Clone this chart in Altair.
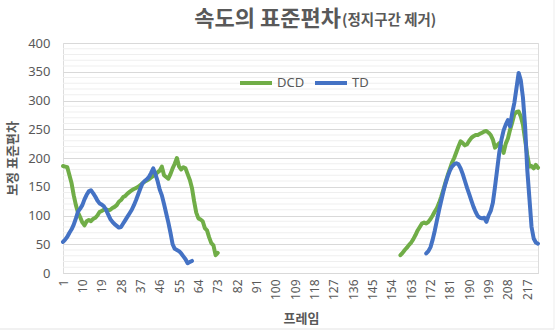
import altair as alt
import pandas as pd

# ---- data ----
dcd1_frames = list(range(1, 74))
dcd1_values = [186, 185, 184, 170, 156, 135, 118, 105, 97, 88, 83, 90, 92, 90, 94, 96, 100, 106, 108, 110,
               111, 109, 110, 113, 115, 118, 124, 127, 132, 134, 138, 141, 144, 146, 148, 150, 153, 156, 159, 161,
               163, 166, 169, 172, 175, 178, 185, 170, 167, 164, 172, 182, 190, 200, 185, 180, 184, 182, 172, 162,
               148, 125, 105, 95, 93, 90, 78, 74, 62, 52, 48, 31, 35]

td1_frames = list(range(1, 62))
td1_values = [54, 58, 63, 70, 76, 84, 95, 107, 112, 118, 128, 136, 142, 144, 139, 133, 126, 121, 119, 116,
              110, 102, 94, 89, 85, 82, 79, 80, 86, 92, 98, 104, 110, 118, 127, 137, 147, 156, 160, 163,
              167, 174, 182, 172, 160, 145, 135, 120, 104, 88, 70, 50, 42, 40, 38, 34, 29, 24, 17, 19, 21]

dcd2_frames = list(range(158, 223))
dcd2_values = [31, 35, 40, 44, 49, 53, 59, 66, 74, 80, 86, 88, 86, 89, 94, 100, 107, 113, 122, 133,
               145, 158, 170, 181, 192, 200, 210, 220, 229, 226, 222, 224, 230, 235, 238, 240, 240, 242, 244, 246,
               247, 244, 240, 232, 218, 222, 226, 220, 209, 225, 234, 249, 262, 276, 280, 281, 272, 258, 232, 205,
               185, 186, 182, 188, 183]

td2_frames = list(range(170, 223))
td2_values = [34, 38, 45, 58, 74, 92, 110, 126, 142, 156, 168, 178, 185, 189, 191, 189, 182, 172, 160, 148,
              137, 126, 115, 106, 99, 96, 95, 96, 89, 100, 108, 122, 150, 180, 210, 232, 248, 258, 266, 255,
              278, 296, 322, 348, 335, 305, 255, 180, 130, 80, 60, 53, 51]

series_names = ["DCD", "TD"]
series_colors = ["#70AD47", "#4472C4"]
x_tick_values = list(range(1, 218, 9))
y_major = [0, 50, 100, 150, 200, 250, 300, 350, 400]
y_minor = [v for v in range(10, 400, 10) if v % 50 != 0]

title_main = "속도의 표준편차"
title_sub = "(정지구간 제거)"
y_title = "보정 표준편차"
x_title = "프레임"

# ---- build table ----
rows = []
for name, seg, fr, vals in [("DCD", "DCD-1", dcd1_frames, dcd1_values),
                            ("TD", "TD-1", td1_frames, td1_values),
                            ("DCD", "DCD-2", dcd2_frames, dcd2_values),
                            ("TD", "TD-2", td2_frames, td2_values)]:
    for f, v in zip(fr, vals):
        rows.append({"frame": f, "value": v, "series": name, "seg": seg})
df = pd.DataFrame(rows)

GRAY = "#595959"
NUM_FONT = "Noto Sans"
KR_FONT = "Noto Sans CJK KR"

x_scale = alt.Scale(domain=[1, 222], nice=False, zero=False)
y_scale = alt.Scale(domain=[0, 400], nice=False)

y_axis = alt.Axis(values=y_major, labelFont=NUM_FONT, labelFontSize=13, labelColor=GRAY,
                  labelPadding=13, ticks=False, domain=False, gridColor="#d9d9d9",
                  title=y_title, titleFont=KR_FONT, titleFontSize=13,
                  titleFontWeight="bold", titleColor=GRAY, titleAngle=-90,
                  titleX=-51, titleY=115, titleAlign="center", titleBaseline="middle")

minor = alt.Chart(pd.DataFrame({"value": y_minor})).mark_rule(
    color="#efefef", strokeWidth=1
).encode(y=alt.Y("value:Q", scale=y_scale, axis=y_axis))

lines = alt.Chart(df).mark_line(
    strokeWidth=4, strokeCap="round", strokeJoin="round"
).encode(
    x=alt.X("frame:Q", scale=x_scale,
            axis=alt.Axis(values=x_tick_values, labelAngle=-90, labelAlign="right",
                          labelBaseline="middle", labelFont=NUM_FONT, labelFontSize=12,
                          labelColor=GRAY, labelPadding=6, ticks=False, grid=False,
                          domainColor="#d9d9d9", labelOverlap=False,
                          title=x_title, titleFont=KR_FONT, titleFontSize=13,
                          titleFontWeight="bold", titleColor=GRAY,
                          titleX=238, titleY=45, titleAlign="center", titleBaseline="middle")),
    y=alt.Y("value:Q", scale=y_scale, axis=y_axis),
    color=alt.Color("series:N", scale=alt.Scale(domain=series_names, range=series_colors),
                    legend=alt.Legend(orient="none", legendX=175, legendY=22, direction="horizontal",
                                      title=None, symbolType="stroke", symbolSize=1024,
                                      symbolStrokeWidth=4, labelFont=NUM_FONT, labelFontSize=13,
                                      labelColor=GRAY, columnPadding=2, labelOffset=3)),
    detail="seg:N",
    order="frame:Q",
)

one = pd.DataFrame({"a": [0]})
t_main = alt.Chart(one).mark_text(
    text=title_main, font=KR_FONT, fontSize=22, fontWeight="bold", color=GRAY,
    align="right", baseline="alphabetic"
).encode(x=alt.value(278), y=alt.value(-17))
t_sub = alt.Chart(one).mark_text(
    text=title_sub, font=KR_FONT, fontSize=14.5, fontWeight="bold", color=GRAY,
    align="left", baseline="alphabetic"
).encode(x=alt.value(279), y=alt.value(-18))

border_b = alt.Chart(one).mark_rule(color="#e3e3e3", strokeWidth=1).encode(
    x=alt.value(-63), x2=alt.value(491), y=alt.value(286))
border_r = alt.Chart(one).mark_rule(color="#ededed", strokeWidth=1).encode(
    x=alt.value(491), y=alt.value(-43), y2=alt.value(286))

chart = alt.layer(minor, lines, t_main, t_sub, border_b, border_r).properties(
    width=475, height=230, autosize="none",
    padding={"left": 63, "top": 43, "right": 20, "bottom": 58},
).configure_view(stroke=None).configure(background="white")

chart.save("out.html", embed_options={"renderer": "svg", "actions": False})
